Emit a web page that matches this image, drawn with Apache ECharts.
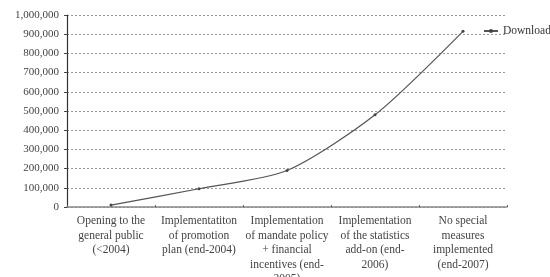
<!DOCTYPE html>
<html>
<head>
<meta charset="utf-8">
<script src="https://cdn.jsdelivr.net/npm/echarts@6/dist/echarts.min.js"></script>
<style>
  html, body { margin: 0; padding: 0; background: #fff; }
  #chart { width: 550px; height: 277px; }
</style>
</head>
<body>
<div id="chart"></div>
<script>
  // categories (milestones) and cumulative downloads
  var categories = [
    'Opening to the\ngeneral public\n(<2004)',
    'Implementatiton\nof promotion\nplan (end-2004)',
    'Implementation\nof mandate policy\n+ financial\nincentives (end-\n2005)',
    'Implementation\nof the statistics\nadd-on (end-\n2006)',
    'No special\nmeasures\nimplemented\n(end-2007)'
  ];
  var downloads = [10000, 95000, 190000, 480000, 915000];
  var seriesName = 'Downloads';

  var chart = echarts.init(document.getElementById('chart'));
  chart.setOption({
    animation: false,
    textStyle: { fontFamily: 'Liberation Serif' },
    legend: {
      data: [seriesName],
      left: 478,
      top: 20,
      itemWidth: 14,
      itemHeight: 5,
      itemGap: 4,
      textStyle: { fontFamily: 'Liberation Serif', fontSize: 11.5, color: '#333' }
    },
    grid: { left: 67, right: 43, top: 15, bottom: 70, outerBoundsMode: 'none' },
    xAxis: {
      type: 'category',
      data: categories,
      boundaryGap: true,
      axisLine: { lineStyle: { color: '#888', width: 1.5 } },
      axisTick: { show: true, length: 2, inside: true, lineStyle: { color: '#666' } },
      axisLabel: {
        interval: 0,
        color: '#444',
        fontSize: 11.5,
        lineHeight: 14.5,
        margin: 7,
        fontFamily: 'Liberation Serif'
      }
    },
    yAxis: {
      type: 'value',
      min: 0,
      max: 1000000,
      interval: 100000,
      axisLine: { show: true, lineStyle: { color: '#333', width: 1.2 } },
      axisTick: { show: true, length: 3, lineStyle: { color: '#444' } },
      splitLine: { show: true, lineStyle: { color: '#999', type: [2, 2] } },
      axisLabel: {
        color: '#444',
        fontSize: 11,
        margin: 8,
        fontFamily: 'Liberation Serif',
        formatter: function (v) { return v.toString().replace(/\B(?=(\d{3})+(?!\d))/g, ','); }
      }
    },
    series: [
      {
        name: seriesName,
        type: 'line',
        smooth: 0.25,
        data: downloads,
        symbol: 'circle',
        symbolSize: 3,
        lineStyle: { color: '#555', width: 1.2 },
        itemStyle: { color: '#444' }
      }
    ]
  });
</script>
</body>
</html>
